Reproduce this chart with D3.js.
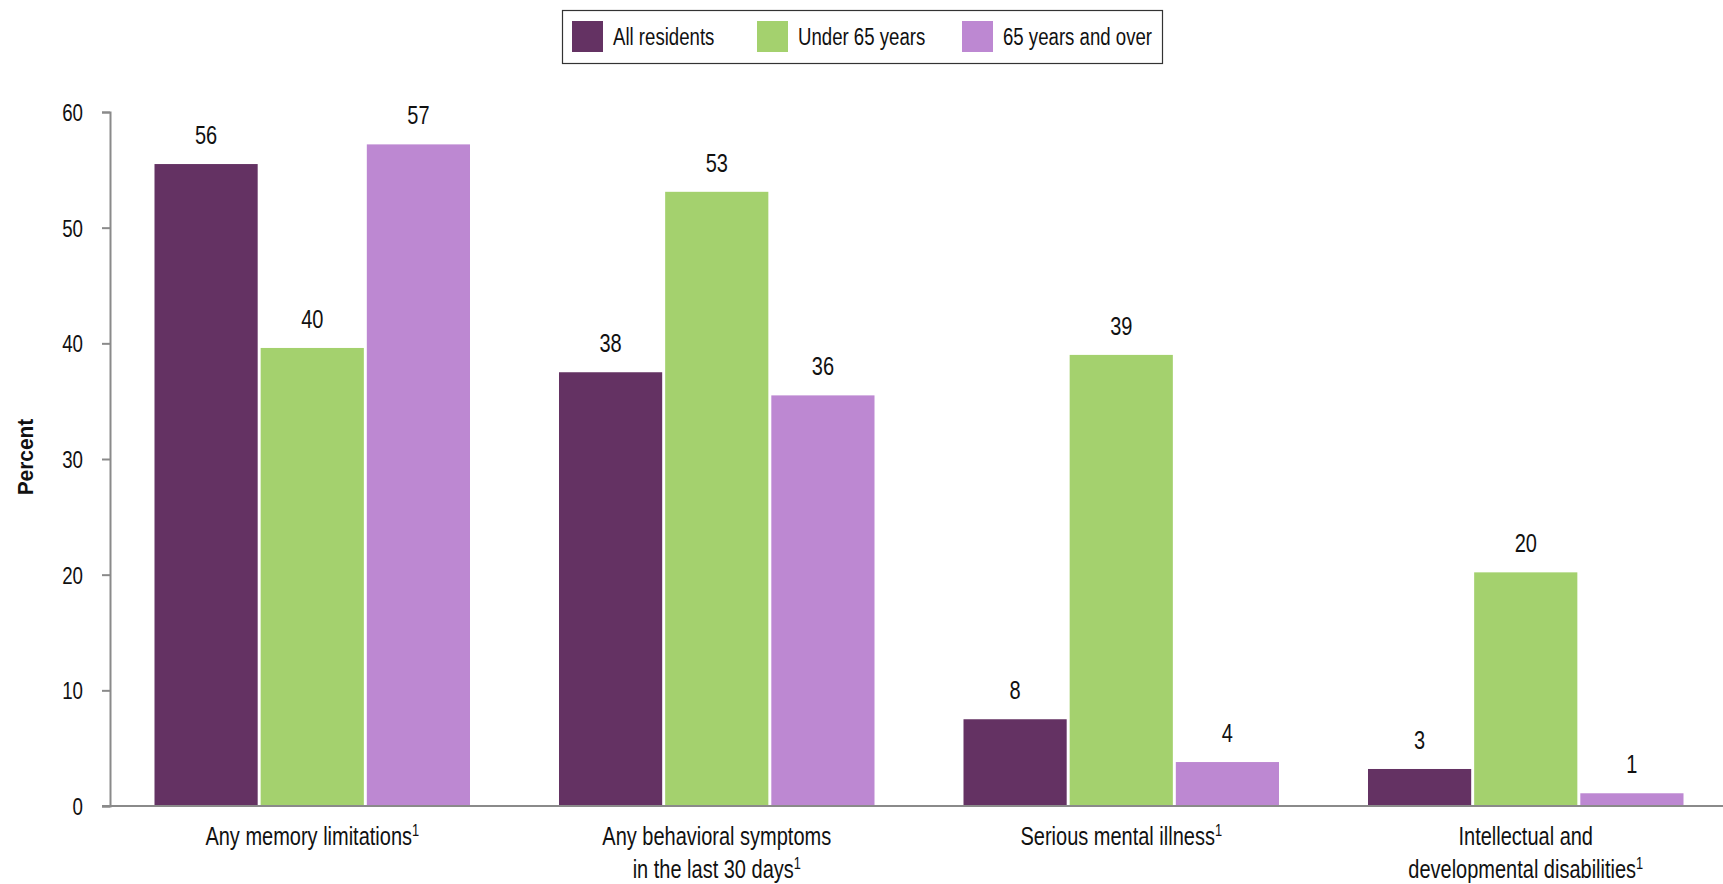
<!DOCTYPE html>
<html>
<head>
<meta charset="utf-8">
<script src="https://cdn.jsdelivr.net/npm/d3@7"></script>
<style>
  html, body { margin: 0; padding: 0; background: #fff; }
  svg { display: block; }
  text { font-family: "Liberation Sans", Arial, sans-serif; fill: #111; }
</style>
</head>
<body>
<svg id="chart" width="1723" height="884"></svg>
<script>
const categories = ["Any memory limitations", "Any behavioral symptoms in the last 30 days", "Serious mental illness", "Intellectual and developmental disabilities"];
const categoryLines = [["Any memory limitations"], ["Any behavioral symptoms", "in the last 30 days"], ["Serious mental illness"], ["Intellectual and", "developmental disabilities"]];
const footnote = "1";
const seriesNames = ["All residents", "Under 65 years", "65 years and over"];
const allResidents = [55.5, 37.5, 7.5, 3.2];
const under65 = [39.6, 53.1, 39.0, 20.2];
const over65 = [57.2, 35.5, 3.8, 1.1];
const seriesColors = ["#643263", "#a4d16e", "#bd88d2"];
const yTicks = [0, 10, 20, 30, 40, 50, 60];
const yTitle = "Percent";

const SX = 0.8; // horizontal condensing of the text face
const seriesValues = [allResidents, under65, over65];
const rows = categories.map((c, i) => ({
  cat: c,
  vals: seriesNames.map((s, j) => ({ s, j, v: seriesValues[j][i] }))
}));

const svg = d3.select("#chart");
const W = 1723, H = 884;
const x0 = d3.scaleBand().domain(categories).range([110, 1728]).paddingInner(0.22).paddingOuter(0.11);
const x1 = d3.scaleBand().domain(seriesNames).range([0, x0.bandwidth()]).paddingInner(0.028);
const y = d3.scaleLinear().domain([0, 60]).range([806, 112]);
const color = d3.scaleOrdinal().domain(seriesNames).range(seriesColors);

function ctext(parent, x, yy, sx) {
  return parent.append("text").attr("transform", `translate(${x},${yy}) scale(${sx},1)`);
}

// y axis
const yAxis = svg.append("g").attr("transform", "translate(110,0)")
  .call(d3.axisLeft(y).tickValues(yTicks).tickSize(8).tickSizeOuter(8));
yAxis.select(".domain").attr("stroke", "#8a8a8a").attr("stroke-width", 2);
yAxis.selectAll(".tick line").attr("stroke", "#8a8a8a").attr("stroke-width", 2);
yAxis.selectAll(".tick text")
  .attr("x", 0).attr("dy", null).attr("y", 8.5)
  .attr("transform", `translate(-27,0) scale(0.78,1)`)
  .attr("font-size", 24).attr("fill", "#111")
  .style("font-family", '"Liberation Sans", Arial, sans-serif');

// bars
const groups = svg.append("g").selectAll("g").data(rows).join("g")
  .attr("transform", d => `translate(${x0(d.cat)},0)`);
groups.selectAll("rect").data(d => d.vals).join("rect")
  .attr("x", d => x1(d.s))
  .attr("width", x1.bandwidth())
  .attr("y", d => y(d.v))
  .attr("height", d => y(0) - y(d.v))
  .attr("fill", d => color(d.s));
groups.selectAll("text.val").data(d => d.vals).join("text")
  .attr("class", "val")
  .attr("transform", d => `translate(${x1(d.s) + x1.bandwidth() / 2},${y(d.v) - 20}) scale(0.8,1)`)
  .attr("text-anchor", "middle")
  .attr("font-size", 25)
  .text(d => Math.round(d.v));

// x axis baseline
svg.append("line").attr("x1", 102).attr("x2", W).attr("y1", y(0)).attr("y2", y(0))
  .attr("stroke", "#8a8a8a").attr("stroke-width", 2);

// x labels
categories.forEach((c, i) => {
  const cx = x0(c) + x0.bandwidth() / 2;
  const lines = categoryLines[i];
  const t = ctext(svg, cx, 845, SX).attr("text-anchor", "middle").attr("font-size", 25);
  lines.forEach((ln, k) => {
    t.append("tspan").attr("x", 0).attr("dy", k === 0 ? 0 : 33).text(ln);
    if (k === lines.length - 1) {
      t.append("tspan").attr("font-size", 16).attr("dy", -9).text(footnote);
    }
  });
});

// y title
svg.append("text")
  .attr("transform", `translate(33,457) rotate(-90) scale(0.95,1)`)
  .attr("text-anchor", "middle")
  .attr("font-size", 22)
  .attr("font-weight", "bold")
  .text(yTitle);

// legend
const lg = svg.append("g");
lg.append("rect").attr("x", 562.5).attr("y", 10.5).attr("width", 600).attr("height", 53)
  .attr("fill", "#fff").attr("stroke", "#333").attr("stroke-width", 1.2);
const legendX = [572, 757, 962];
seriesNames.forEach((s, i) => {
  lg.append("rect").attr("x", legendX[i]).attr("y", 21).attr("width", 31).attr("height", 31).attr("fill", color(s));
  ctext(lg, legendX[i] + 41, 45, 0.76).attr("font-size", 24.5).text(s);
});
</script>
</body>
</html>
